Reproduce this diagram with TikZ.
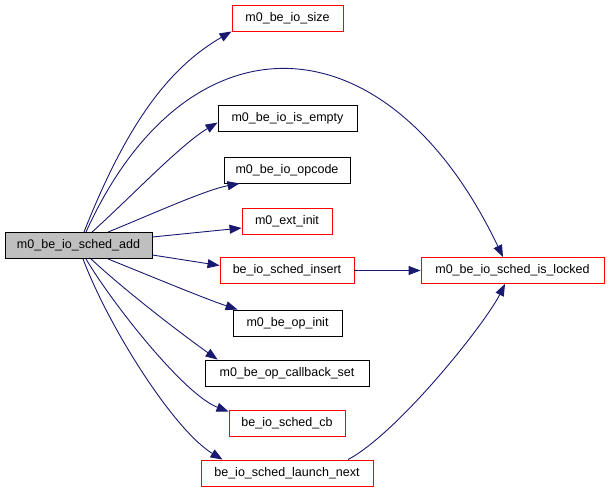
\documentclass[tikz,border=0pt]{standalone}
\usepackage{fontspec}
\setmainfont{Liberation Sans}
\usetikzlibrary{arrows.meta}
\definecolor{edgeblue}{HTML}{191970}
\definecolor{nodegray}{HTML}{BFBFBF}
\begin{document}
\begin{tikzpicture}[x=1pt,y=-1pt,
  fn/.style={draw=black,line width=0.9pt,minimum height=26pt,inner sep=0pt,font=\fontsize{12.5}{15}\selectfont},
  redfn/.style={fn,draw=red},
  mainfn/.style={fn,fill=nodegray},
  call/.style={draw=edgeblue,line width=0.9pt,-{Triangle[length=12pt,width=9pt]}}]
\useasboundingbox (0,0) rectangle (609,493);
\node[mainfn,minimum width=147pt] (main) at (78.5,245.5) {m0\_be\_io\_sched\_add};
\node[redfn,minimum width=111pt] (size) at (287.5,18) {m0\_be\_io\_size};
\node[fn,minimum width=139pt] (empty) at (287.5,118.5) {m0\_be\_io\_is\_empty};
\node[fn,minimum width=126pt] (opcode) at (287,170) {m0\_be\_io\_opcode};
\node[redfn,minimum width=90pt] (ext) at (287,221) {m0\_ext\_init};
\node[redfn,minimum width=134pt] (insert) at (287,270.5) {be\_io\_sched\_insert};
\node[fn,minimum width=109pt] (opinit) at (287.5,323) {m0\_be\_op\_init};
\node[fn,minimum width=164pt] (cbset) at (287,373) {m0\_be\_op\_callback\_set};
\node[redfn,minimum width=116pt] (cb) at (287,423) {be\_io\_sched\_cb};
\node[redfn,minimum width=172pt] (launch) at (287,473) {be\_io\_sched\_launch\_next};
\node[redfn,minimum width=183pt] (locked) at (512.5,270.5) {m0\_be\_io\_sched\_is\_locked};

\draw[call] ([xshift=5.5pt]main.north) .. controls (129,118) and (172,66) .. (size.south west);
\draw[call] ([xshift=7.5pt]main.north) .. controls (186,11) and (386,12) .. ([xshift=-9.5pt]locked.north);
\draw[call] ([xshift=13.5pt]main.north) .. controls (130,198) and (180,145) .. ([yshift=-4pt]empty.west);
\draw[call] ([xshift=29.5pt]main.north) .. controls (150,215) and (205,190) .. ([xshift=16pt]opcode.south west);
\draw[call] ([yshift=8.5pt]main.east) -- ([yshift=-7pt]ext.west);
\draw[call] ([yshift=-9.5pt]main.east) -- ([yshift=5pt]insert.west);
\draw[call] ([xshift=29.5pt]main.south) .. controls (148,275) and (203,298) .. ([xshift=5pt]opinit.north west);
\draw[call] ([xshift=12.5pt]main.south) .. controls (131,296) and (190,340) .. ([xshift=13pt]cbset.north west);
\draw[call] ([xshift=7.5pt]main.south) .. controls (110,300) and (183,394) .. ([yshift=-2pt]cb.north west);
\draw[call] ([xshift=4.5pt]main.south) .. controls (110,330) and (175,431) .. ([xshift=22pt]launch.north west);
\draw[call] (insert) -- (locked);
\draw[call] ([xshift=61pt]launch.north) .. controls (398,433) and (485,324) .. ([xshift=-7.5pt]locked.south);
\end{tikzpicture}
\end{document}
